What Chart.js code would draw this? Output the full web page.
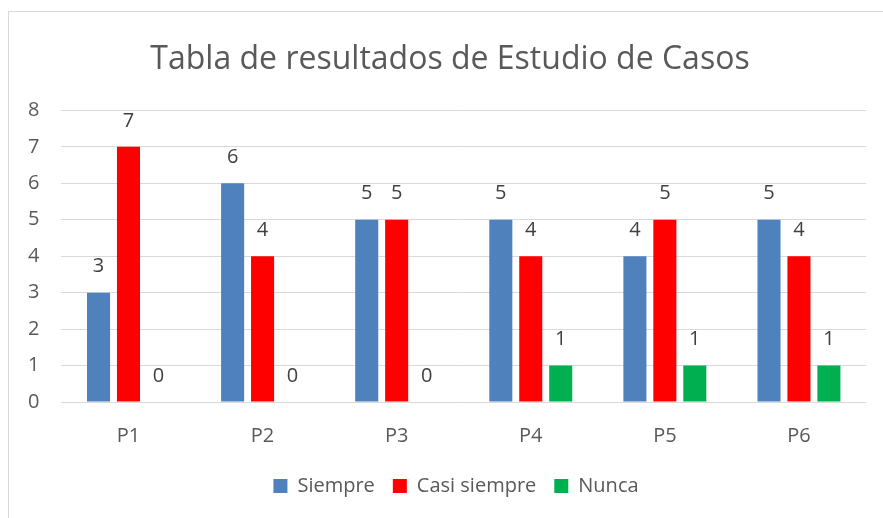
<!DOCTYPE html>
<html>
<head>
<meta charset="utf-8">
<script src="https://cdn.jsdelivr.net/npm/chart.js@4"></script>
<style>
  html, body { margin: 0; padding: 0; background: #fff; }
  #wrap { position: relative; width: 883px; height: 518px; }
  #frame { position: absolute; left: 8px; top: 11px; right: 0; bottom: 0;
           border-left: 1px solid #d9d9d9; border-top: 1px solid #d9d9d9; }
  canvas { position: absolute; left: 0; top: 0; }
</style>
</head>
<body>
<div id="wrap">
  <div id="frame"></div>
  <canvas id="chart" width="883" height="518"></canvas>
</div>
<script>
const categories = ['P1', 'P2', 'P3', 'P4', 'P5', 'P6'];
const siempre = [3, 6, 5, 5, 4, 5];
const casiSiempre = [7, 4, 5, 4, 5, 4];
const nunca = [0, 0, 0, 1, 1, 1];
const yTicks = [0, 1, 2, 3, 4, 5, 6, 7, 8];

const FONT = '"Open Sans", Lato, sans-serif';
const TEXT = '#595959';

// value labels above each bar (like Excel data labels)
const barLabels = {
  id: 'barLabels',
  afterDatasetsDraw(chart) {
    const ctx = chart.ctx;
    ctx.save();
    ctx.font = '20px ' + FONT;
    ctx.fillStyle = '#404040';
    ctx.textAlign = 'center';
    ctx.textBaseline = 'middle';
    chart.data.datasets.forEach((ds, i) => {
      chart.getDatasetMeta(i).data.forEach((bar, j) => {
        ctx.fillText(String(ds.data[j]), bar.x, bar.y - 26);
      });
    });
    ctx.restore();
  }
};

// Excel places title and legend a little differently, nudge them
const nudgeBoxes = {
  id: 'nudgeBoxes',
  afterLayout(chart) {
    const t = chart.titleBlock;
    if (t) { t.left += 14; t.right += 14; }
    const l = chart.legend;
    if (l) { l.left += 20; l.right += 20; l.top -= 12; l.bottom -= 12; }
  }
};

new Chart(document.getElementById('chart'), {
  type: 'bar',
  data: {
    labels: categories,
    datasets: [
      { label: 'Siempre', data: siempre, backgroundColor: '#4F81BD' },
      { label: 'Casi siempre', data: casiSiempre, backgroundColor: '#FF0000' },
      { label: 'Nunca', data: nunca, backgroundColor: '#00B050' }
    ]
  },
  options: {
    responsive: false,
    animation: false,
    categoryPercentage: 0.67,
    barPercentage: 0.77,
    layout: { padding: { left: 6, right: 17, top: 0, bottom: 0 } },
    plugins: {
      title: {
        display: true,
        text: 'Tabla de resultados de Estudio de Casos',
        color: TEXT,
        font: { family: FONT, size: 32, weight: 'normal' },
        padding: { top: 41, bottom: 31 }
      },
      legend: {
        position: 'bottom',
        labels: {
          color: TEXT,
          font: { family: FONT, size: 20 },
          boxWidth: 14,
          boxHeight: 14,
          padding: 18
        }
      },
      tooltip: { enabled: false }
    },
    scales: {
      x: {
        grid: { display: false, drawTicks: false },
        border: { display: false },
        ticks: { color: TEXT, font: { family: FONT, size: 20 }, padding: 22 }
      },
      y: {
        min: 0,
        max: 8,
        afterBuildTicks: axis => { axis.ticks = yTicks.map(v => ({ value: v })); },
        grid: { color: '#D9D9D9', lineWidth: 1, drawTicks: false },
        border: { display: false },
        ticks: { color: TEXT, font: { family: FONT, size: 20 }, padding: 22 }
      }
    }
  },
  plugins: [barLabels, nudgeBoxes]
});
</script>
</body>
</html>
